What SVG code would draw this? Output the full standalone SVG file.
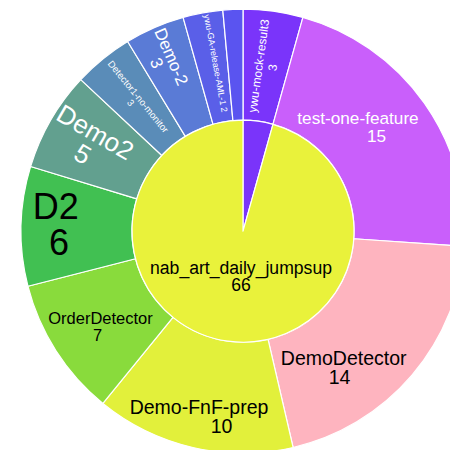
<svg xmlns="http://www.w3.org/2000/svg" width="450" height="450" viewBox="0 0 450 450">
  <style>
    .slice { stroke: #ffffff; stroke-width: 1.2; stroke-linejoin: round; }
    text { font-family: "Liberation Sans", Arial, Helvetica, sans-serif; text-anchor: middle; }
    .dark { fill: #000000; }
    .light { fill: #ffffff; }
  </style>
  <rect width="450" height="450" fill="#ffffff"/>

  <!-- Sunburst: centre (243, 231.2), inner radius 111, outer radius 222 -->
  <g id="ring">
    <g id="ywu-mock-result3">
      <path class="slice" fill="#7a34fa" d="M243,9.2 A222,222 0 0 1 302.90,17.43 L272.95,124.32 A111,111 0 0 0 243,120.2 Z"/>
      <g transform="translate(265.3,66.7) rotate(-82.17)">
        <text class="light" font-size="12" y="-2.6">ywu-mock-result3</text>
        <text class="light" font-size="12" y="11.4">3</text>
      </g>
    </g>

    <g id="test-one-feature">
      <path class="slice" fill="#c95ffb" d="M302.90,17.43 A222,222 0 0 1 464.48,246.35 L353.74,238.77 A111,111 0 0 0 272.95,124.32 Z"/>
      <text class="light" font-size="17.2" x="358" y="124">test-one-feature</text>
      <text class="light" font-size="17.2" x="376.5" y="141.7">15</text>
    </g>

    <g id="DemoDetector">
      <path class="slice" fill="#feb4bf" d="M464.48,246.35 A222,222 0 0 1 293.10,447.47 L268.05,339.34 A111,111 0 0 0 353.74,238.77 Z"/>
      <text class="dark" font-size="19.5" x="343.7" y="364.5">DemoDetector</text>
      <text class="dark" font-size="19.5" x="339.5" y="384">14</text>
    </g>

    <g id="Demo-FnF-prep">
      <path class="slice" fill="#e2f03b" d="M293.10,447.47 A222,222 0 0 1 102.90,403.41 L172.95,317.30 A111,111 0 0 0 268.05,339.34 Z"/>
      <text class="dark" font-size="19.5" x="199" y="413.5">Demo-FnF-prep</text>
      <text class="dark" font-size="19.5" x="221.5" y="432.5">10</text>
    </g>

    <g id="OrderDetector">
      <path class="slice" fill="#89db3c" d="M102.90,403.41 A222,222 0 0 1 27.92,286.21 L135.46,258.71 A111,111 0 0 0 172.95,317.30 Z"/>
      <text class="dark" font-size="16.5" x="100.5" y="324">OrderDetector</text>
      <text class="dark" font-size="16.5" x="97.7" y="341">7</text>
    </g>

    <g id="D2">
      <path class="slice" fill="#41c052" d="M27.92,286.21 A222,222 0 0 1 30.65,166.45 L136.83,198.83 A111,111 0 0 0 135.46,258.71 Z"/>
      <text class="dark" font-size="36" x="55.8" y="219">D2</text>
      <text class="dark" font-size="36" x="59" y="255">6</text>
    </g>

    <g id="Demo2">
      <path class="slice" fill="#62a08f" d="M30.65,166.45 A222,222 0 0 1 80.75,79.67 L161.88,155.44 A111,111 0 0 0 136.83,198.83 Z"/>
      <g transform="translate(89,143) rotate(30)">
        <text class="light" font-size="26" y="-3.5">Demo2</text>
        <text class="light" font-size="26" y="21.7">5</text>
      </g>
    </g>

    <g id="Detector1-no-monitor">
      <path class="slice" fill="#5a8cb8" d="M80.75,79.67 A222,222 0 0 1 127.65,41.51 L185.33,136.36 A111,111 0 0 0 161.88,155.44 Z"/>
      <g transform="translate(134.5,99.7) rotate(50.87)">
        <text class="light" font-size="9.5" y="-1.5">Detector1-no-monitor</text>
        <text class="light" font-size="9.5" y="8.2">3</text>
      </g>
    </g>

    <g id="Demo-2">
      <path class="slice" fill="#5a7bd6" d="M127.65,41.51 A222,222 0 0 1 183.10,17.43 L213.05,124.32 A111,111 0 0 0 185.33,136.36 Z"/>
      <g transform="translate(164.2,59.7) rotate(66.5)">
        <text class="light" font-size="17" y="-2">Demo-2</text>
        <text class="light" font-size="17" y="14">3</text>
      </g>
    </g>

    <g id="ywu-GA-release-AML-1">
      <path class="slice" fill="#5a5fe8" d="M183.10,17.43 A222,222 0 0 1 222.81,10.12 L232.91,120.66 A111,111 0 0 0 213.05,124.32 Z"/>
      <g transform="translate(215.8,63.3) rotate(79.6)">
        <text class="light" font-size="8.8" y="3.1">ywu-GA-release-AML-1 2</text>
      </g>
    </g>

    <g id="slice-unlabeled">
      <path class="slice" fill="#5a54f0" d="M222.81,10.12 A222,222 0 0 1 243,9.2 L243,120.2 A111,111 0 0 0 232.91,120.66 Z"/>
    </g>
  </g>

  <!-- Root disc with the narrow wedge left open at the top -->
  <g id="nab_art_daily_jumpsup">
    <path class="slice" fill="#7a34fa" d="M243,231.2 L243,120.2 A111,111 0 0 1 272.95,124.32 Z"/>
    <path class="slice" fill="#e9f23b" d="M243,231.2 L272.95,124.32 A111,111 0 1 1 243,120.2 Z"/>
    <text class="dark" font-size="17.6" x="241" y="274">nab_art_daily_jumpsup</text>
    <text class="dark" font-size="17.6" x="241" y="291">66</text>
  </g>

  <g id="connectors"/>
</svg>
